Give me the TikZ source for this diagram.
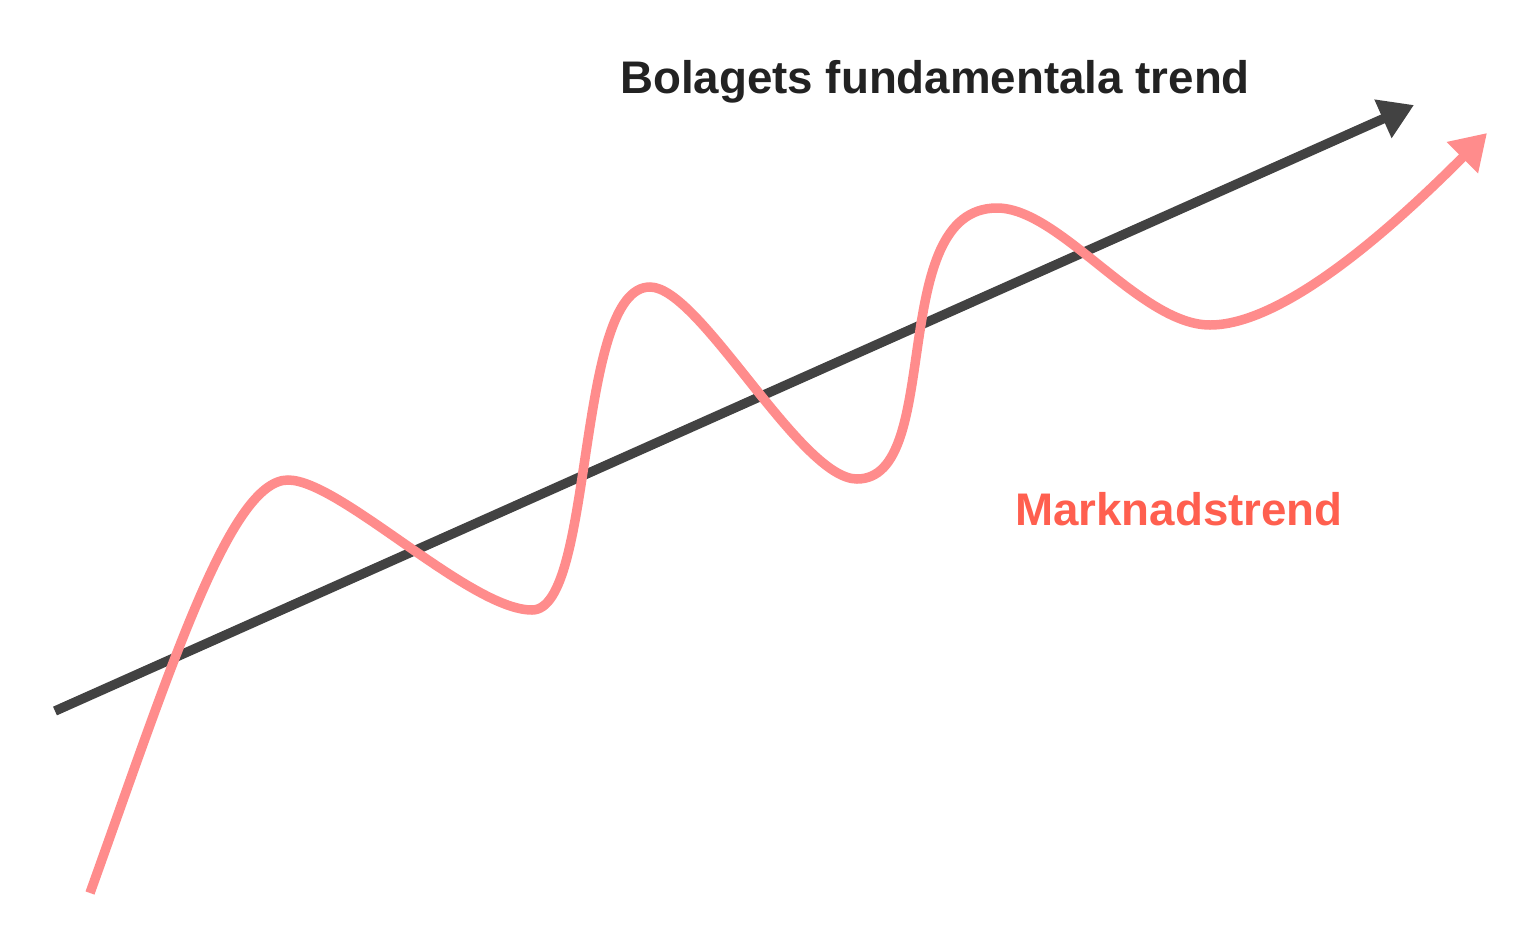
\documentclass[tikz,border=0pt]{standalone}
\usepackage{fontspec}
\setmainfont{Liberation Sans}
\usetikzlibrary{arrows.meta}
\definecolor{darkline}{HTML}{424242}
\definecolor{pinkline}{HTML}{FF8C8C}
\definecolor{redtext}{HTML}{FF5F4F}
\definecolor{titletext}{HTML}{222222}
\tikzset{
  trendline/.style={line width=9.5pt, draw=darkline, -{Triangle[length=34pt,width=40pt]}},
  marketline/.style={line width=9.5pt, draw=pinkline, -{Triangle[length=35pt,width=42pt]}},
  label/.style={font=\fontsize{45.7}{50}\selectfont\bfseries, inner sep=0pt, anchor=base west}
}
\begin{document}
\begin{tikzpicture}[x=1pt,y=-1pt]
\useasboundingbox (0,0) rectangle (1538,943);
\coordinate (t0) at (55,711);
\coordinate (t1) at (1414,105);
\draw[trendline] (t0) -- (t1);
\coordinate (m0) at (90,893);
\coordinate (p1) at (288,480);
\coordinate (v1) at (532,610);
\coordinate (p2) at (650,287);
\coordinate (v2) at (857,479);
\coordinate (p3) at (997,208);
\coordinate (v3) at (1210,325);
\coordinate (m1) at (1487,133);
\draw[marketline] (m0) .. controls (170,670) and (230,480) .. (p1)
  .. controls (340,480) and (470,610) .. (v1)
  .. controls (595,610) and (575,287) .. (p2)
  .. controls (700,287) and (800,479) .. (v2)
  .. controls (945,479) and (885,208) .. (p3)
  .. controls (1060,208) and (1140,325) .. (v3)
  .. controls (1290,325) and (1410,210) .. (m1);
\node[label, text=titletext] (title) at (620,93) {Bolagets fundamentala trend};
\node[label, text=redtext] (market) at (1015,525) {Marknadstrend};
\end{tikzpicture}
\end{document}
